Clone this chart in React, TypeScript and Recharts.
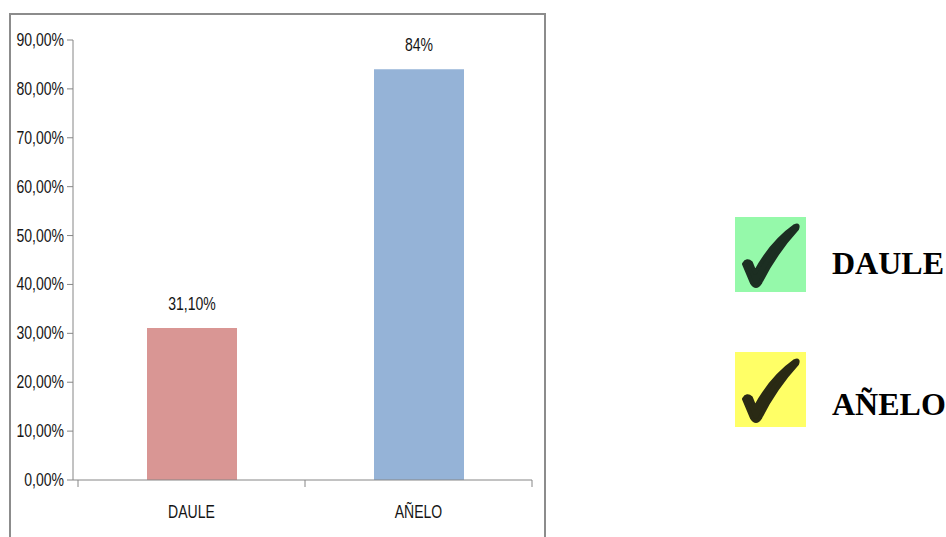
import React from 'react';
import { BarChart, Bar, XAxis, YAxis, Cell, LabelList } from 'recharts';

const categories = ['DAULE', 'AÑELO'];
const values = [0.311, 0.84];
const valueLabels = ['31,10%', '84%'];
const barColors = ['#D99694', '#95B3D7'];
const yTicks = [0, 0.1, 0.2, 0.3, 0.4, 0.5, 0.6, 0.7, 0.8, 0.9];

const legendItems = [
  { name: 'DAULE', box: '#95F9AA', mark: '#1c2e22' },
  { name: 'AÑELO', box: '#FFFF66', mark: '#2a2a14' },
];

const chartFont = '"Liberation Sans", "DejaVu Sans", sans-serif';
const axisColor = '#868686';

const formatPct = (v: number) => (v * 100).toFixed(2).replace('.', ',') + '%';

// Calibri-like narrow text: squeeze a regular sans horizontally
const NarrowText = ({ x, y, anchor, children }: any) => (
  <text
    transform={`translate(${x},${y}) scale(0.78,1)`}
    textAnchor={anchor}
    fontSize={18}
    fill="#151515"
    fontFamily={chartFont}
  >
    {children}
  </text>
);

const ValueTick = (props: any) => {
  const { x, y, payload } = props;
  return (
    <NarrowText x={x - 1} y={y + 6} anchor="end">
      {formatPct(payload.value)}
    </NarrowText>
  );
};

// x labels plus Excel-style tick marks that sit between the categories
const CategoryTick = (props: any) => {
  const { x, y, payload, index } = props;
  const off = payload.offset || 0;
  return (
    <g>
      {index === 0 && <line x1={x - off} x2={x - off} y1={y - 8} y2={y - 1} stroke={axisColor} />}
      <line x1={x + off} x2={x + off} y1={y - 8} y2={y - 1} stroke={axisColor} />
      <NarrowText x={x} y={y + 30} anchor="middle">
        {payload.value}
      </NarrowText>
    </g>
  );
};

const BarLabel = (props: any) => {
  const { x, y, width, value } = props;
  return (
    <NarrowText x={x + width / 2} y={y - 18} anchor="middle">
      {value}
    </NarrowText>
  );
};

const CheckBox = ({ box, mark }: { box: string; mark: string }) => (
  <svg width={71} height={75} style={{ display: 'block' }}>
    <rect x={0} y={0} width={71} height={75} fill={box} />
    <path
      d="M9 47 Q12 42 16 46 L20 56 Q36 26 60 9 Q64 7 62 12 Q40 36 25 66 Q21 72 17 66 Z"
      fill={mark}
      stroke={mark}
      strokeWidth={4}
      strokeLinejoin="round"
    />
  </svg>
);

export default function App() {
  const data = categories.map((c, i) => ({ name: c, value: values[i], label: valueLabels[i] }));

  return (
    <div style={{ position: 'absolute', left: 0, top: 0, width: 946, height: 537, background: '#fff', overflow: 'hidden' }}>
      <div
        style={{
          position: 'absolute',
          left: 9,
          top: 13,
          width: 537,
          height: 540,
          border: '2px solid #8c8c8c',
          boxSizing: 'border-box',
        }}
      />
      <div style={{ position: 'absolute', left: 0, top: 0 }}>
        <BarChart
          width={946}
          height={537}
          data={data}
          margin={{ top: 40, right: 414, bottom: 27, left: 13 }}
          barSize={90}
        >
          <YAxis
            domain={[0, 0.9]}
            ticks={yTicks}
            width={60}
            axisLine={{ stroke: axisColor }}
            tickLine={{ stroke: axisColor }}
            tickSize={6}
            tick={<ValueTick />}
            interval={0}
          />
          <XAxis
            dataKey="name"
            height={30}
            padding={{ left: 5, right: 0 }}
            axisLine={{ stroke: axisColor }}
            tickLine={false}
            tick={<CategoryTick />}
            interval={0}
          />
          <Bar dataKey="value" isAnimationActive={false}>
            {data.map((d, i) => (
              <Cell key={d.name} fill={barColors[i]} />
            ))}
            <LabelList dataKey="label" content={<BarLabel />} />
          </Bar>
        </BarChart>
      </div>
      {legendItems.map((item, i) => (
        <div key={item.name} style={{ position: 'absolute', left: 735, top: 217 + i * 135, display: 'flex', alignItems: 'center' }}>
          <CheckBox box={item.box} mark={item.mark} />
          <div
            style={{
              marginLeft: 26,
              marginTop: i === 0 ? 18 : 30,
              fontFamily: '"Liberation Serif", "Times New Roman", serif',
              fontWeight: 'bold',
              fontSize: 32,
              color: '#000',
            }}
          >
            {item.name}
          </div>
        </div>
      ))}
    </div>
  );
}
